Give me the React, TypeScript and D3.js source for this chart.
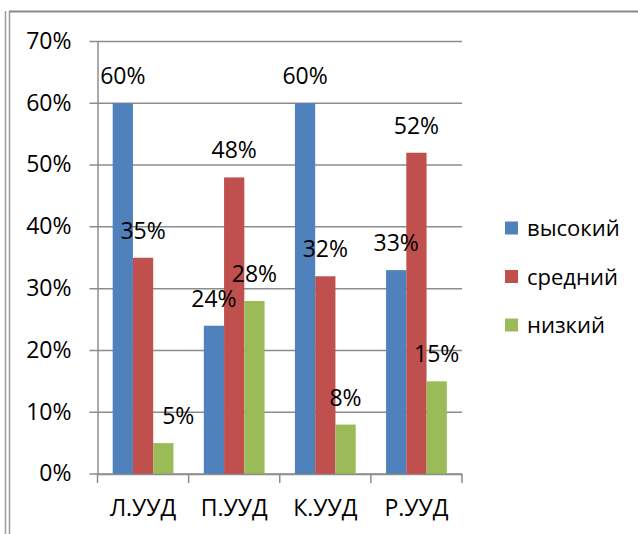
import React, { useEffect, useRef } from 'react';
import * as d3 from 'd3';

const categories = ['Л.УУД', 'П.УУД', 'К.УУД', 'Р.УУД'];
const seriesNames = ['высокий', 'средний', 'низкий'];
const high = [60, 24, 60, 33];
const mid = [35, 48, 32, 52];
const low = [5, 28, 8, 15];
const yTicks = [0, 10, 20, 30, 40, 50, 60, 70];

const colors = ['#4F81BD', '#C0504D', '#9BBB59'];
const font = "'Open Sans', sans-serif";

export default function App() {
  const ref = useRef<SVGSVGElement>(null);

  useEffect(() => {
    const svg = d3.select(ref.current);
    svg.selectAll('*').remove();

    const W = 638, H = 534;
    const left = 97.5, right = 462, top = 41.5, bottom = 474;
    const values = [high, mid, low];

    // frame of the embedded chart
    svg.append('line').attr('x1', 5.5).attr('x2', 5.5).attr('y1', 11).attr('y2', H)
      .attr('stroke', '#9a9a9a').attr('stroke-width', 1.5);
    svg.append('line').attr('x1', 9.5).attr('x2', 9.5).attr('y1', 11).attr('y2', H)
      .attr('stroke', '#9a9a9a').attr('stroke-width', 1.5);
    svg.append('line').attr('x1', 9).attr('x2', W).attr('y1', 11.5).attr('y2', 11.5)
      .attr('stroke', '#8a8a8a').attr('stroke-width', 2);

    const x0 = d3.scaleBand().domain(categories).range([left, right]).padding(0);
    const x1 = d3.scaleBand().domain(seriesNames).range([0, x0.bandwidth()])
      .paddingInner(0).paddingOuter(0.75);
    const y = d3.scaleLinear().domain([0, 70]).range([bottom, top]);

    // gridlines
    svg.append('g').selectAll('line').data(yTicks).join('line')
      .attr('x1', left - 8).attr('x2', right)
      .attr('y1', d => y(d)).attr('y2', d => y(d))
      .attr('stroke', '#8c8c8c').attr('stroke-width', 1.5);

    // y axis
    const yAxis = svg.append('g').attr('transform', `translate(${left},0)`)
      .call(d3.axisLeft(y).tickValues(yTicks).tickFormat(d => d + '%')
        .tickSize(8).tickSizeOuter(0).tickPadding(18));
    yAxis.select('.domain').attr('stroke', '#8c8c8c').attr('stroke-width', 1.5);
    yAxis.selectAll('.tick line').attr('stroke', 'none');
    yAxis.selectAll('.tick text')
      .attr('font-family', font).attr('font-size', 23).attr('fill', '#000')
      .attr('dy', '0.3em');

    // bars
    const groups = svg.append('g').selectAll('g').data(categories).join('g')
      .attr('transform', d => `translate(${x0(d)},0)`);
    groups.selectAll('rect')
      .data((c, i) => seriesNames.map((s, k) => ({ s, k, v: values[k][i] })))
      .join('rect')
      .attr('x', d => x1(d.s)!)
      .attr('y', d => y(d.v))
      .attr('width', x1.bandwidth())
      .attr('height', d => bottom - y(d.v))
      .attr('fill', d => colors[d.k]);

    // x axis
    const xAxis = svg.append('g').attr('transform', `translate(0,${bottom})`)
      .call(d3.axisBottom(x0).tickSize(0).tickSizeOuter(0).tickPadding(26));
    xAxis.select('.domain').attr('stroke', '#8c8c8c').attr('stroke-width', 1.5);
    xAxis.selectAll('.tick text')
      .attr('font-family', font).attr('font-size', 23).attr('fill', '#000');
    const bounds = categories.map(c => x0(c)!).concat([right]);
    svg.append('g').selectAll('line').data(bounds).join('line')
      .attr('x1', d => d).attr('x2', d => d)
      .attr('y1', bottom).attr('y2', bottom + 9)
      .attr('stroke', '#8c8c8c').attr('stroke-width', 1.5);

    // data labels (Excel pushed the small 5% label a bit to the right)
    const nudge = (c: string, s: string) => (c === 'Л.УУД' && s === 'низкий' ? 15 : 0);
    groups.selectAll('text.lbl')
      .data((c, i) => seriesNames.map((s, k) => ({ c, s, k, v: values[k][i] })))
      .join('text')
      .attr('class', 'lbl')
      .attr('x', d => x1(d.s)! + x1.bandwidth() / 2 + nudge(d.c, d.s))
      .attr('y', d => y(d.v) - 19)
      .attr('text-anchor', 'middle')
      .attr('font-family', font).attr('font-size', 23)
      .text(d => d.v + '%');

    // legend
    const legend = svg.append('g').selectAll('g').data(seriesNames).join('g')
      .attr('transform', (d, i) => `translate(505,${228 + i * 48.5})`);
    legend.append('rect').attr('x', 0).attr('y', -6.5).attr('width', 13).attr('height', 13)
      .attr('fill', (d, i) => colors[i]);
    legend.append('text').attr('x', 22).attr('y', 8)
      .attr('font-family', font).attr('font-size', 22)
      .text(d => d);
  }, []);

  return (
    <svg ref={ref} width={638} height={534}
      style={{ position: 'absolute', left: 0, top: 0, background: '#fff' }} />
  );
}
